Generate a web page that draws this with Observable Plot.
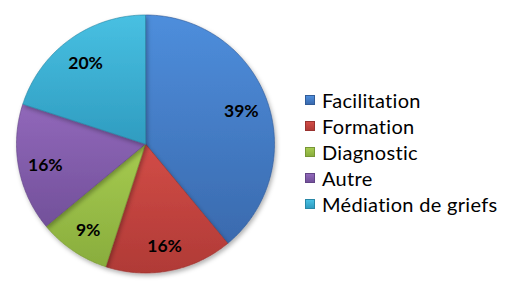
<!DOCTYPE html>
<html>
<head>
<meta charset="utf-8">
<script src="https://cdn.jsdelivr.net/npm/d3@7"></script>
<script src="https://cdn.jsdelivr.net/npm/@observablehq/plot@0.6"></script>
<style>
  html, body { margin: 0; padding: 0; background: #fff; }
  #wrap { position: relative; width: 511px; height: 286px; overflow: hidden; font-family: Lato, "Noto Sans", sans-serif; }
  #chart { position: absolute; left: 0; top: 0; }
  #legend { position: absolute; left: 305px; top: 87px; }
  .row { display: flex; align-items: center; height: 26px; font-size: 20px; letter-spacing: 0.3px; color: #000; white-space: nowrap; }
  .sw { width: 10px; height: 10px; margin-right: 7px; box-sizing: border-box; }
</style>
</head>
<body>
<div id="wrap"><div id="chart"></div><div id="legend"></div></div>
<script>
const categories = ["Facilitation", "Formation", "Diagnostic", "Autre", "Médiation de griefs"];
const values = [39, 16, 9, 16, 20];
const labels = ["39%", "16%", "9%", "16%", "20%"];
const topColors = ["#4E8EDC", "#D24C47", "#A6CB50", "#9168BA", "#48C0E2"];
const bottomColors = ["#3A6AAE", "#B03A36", "#89AD3D", "#72509A", "#2F9CC0"];

const W = 290, H = 286, cx = 145, cy = 143.5, R = 129;
const arcs = d3.pie().sort(null)(values);

const pts = [];
arcs.forEach((a, i) => {
  pts.push({i, x: 0, y: 0});
  const n = Math.max(2, Math.ceil((a.endAngle - a.startAngle) / 0.01));
  for (let k = 0; k <= n; k++) {
    const t = a.startAngle + (a.endAngle - a.startAngle) * k / n;
    pts.push({i, x: Math.sin(t), y: Math.cos(t)});
  }
  pts.push({i, x: 0, y: 0});
});

const sliceMarks = categories.map((c, i) =>
  Plot.line(pts.filter(p => p.i === i), {
    x: "x", y: "y", fill: `url(#g${i})`,
    stroke: d3.color(bottomColors[i]).darker(0.4).formatHex(), strokeWidth: 0.8, strokeOpacity: 0.8
  })
);

const mid = a => (a.startAngle + a.endAngle) / 2;
const chart = Plot.plot({
  width: W, height: H, margin: 0,
  x: {domain: [-cx / R, (W - cx) / R], axis: null},
  y: {domain: [-(H - cy) / R, cy / R], axis: null},
  style: {fontFamily: "Lato, 'Noto Sans', sans-serif", background: "transparent", overflow: "visible"},
  marks: [
    ...sliceMarks,
    Plot.text(arcs, {
      x: a => 0.79 * Math.sin(mid(a)),
      y: a => 0.79 * Math.cos(mid(a)),
      text: (a, i) => labels[i],
      dy: 2,
      fontSize: 17.5, fontWeight: "bold", fill: "#000"
    })
  ]
});

const defs = categories.map((c, i) =>
  `<linearGradient id="g${i}" x1="0" y1="0" x2="0" y2="1">
     <stop offset="0" stop-color="${topColors[i]}"/>
     <stop offset="1" stop-color="${bottomColors[i]}"/>
   </linearGradient>`).join("") +
  `<filter id="sh" x="-10%" y="-10%" width="130%" height="130%">
     <feDropShadow dx="1.5" dy="2.5" stdDeviation="2" flood-color="#000" flood-opacity="0.3"/>
   </filter>`;
chart.insertAdjacentHTML("afterbegin", `<defs>${defs}</defs>`);
chart.querySelectorAll('g[aria-label="line"]').forEach(g => g.setAttribute("filter", "url(#sh)"));
document.getElementById("chart").appendChild(chart);

const legend = document.getElementById("legend");
categories.forEach((name, i) => {
  const row = document.createElement("div");
  row.className = "row";
  const sw = document.createElement("div");
  sw.className = "sw";
  sw.style.background = `linear-gradient(${topColors[i]}, ${bottomColors[i]})`;
  sw.style.border = `1px solid ${d3.color(bottomColors[i]).darker(0.4).formatHex()}`;
  const t = document.createElement("span");
  t.textContent = name;
  row.appendChild(sw); row.appendChild(t);
  legend.appendChild(row);
});
</script>
</body>
</html>
